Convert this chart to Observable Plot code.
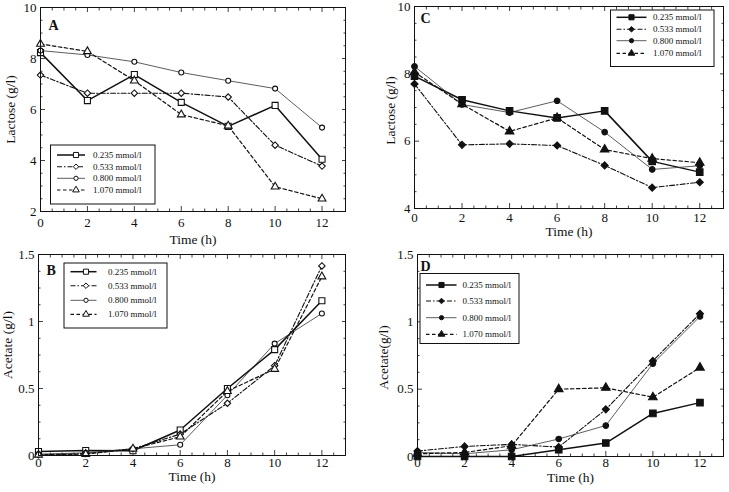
<!DOCTYPE html>
<html>
<head>
<meta charset="utf-8">
<script src="https://cdn.jsdelivr.net/npm/d3@7"></script>
<script src="https://cdn.jsdelivr.net/npm/@observablehq/plot@0.6"></script>
<style>
  body { margin: 0; background: #fff; }
  #fig { position: relative; width: 729px; height: 492px; background: #fff;
         font-family: "Liberation Serif", "Times New Roman", serif; }
  .panel { position: absolute; }
  #legends { position: absolute; left: 0; top: 0; pointer-events: none; }
</style>
</head>
<body>
<div id="fig"></div>
<script>
// Sampling times (h) and the four concentrations tested
const hours = [0, 2, 4, 6, 8, 10, 12];
const concentrations = ["0.235 mmol/l", "0.533 mmol/l", "0.800 mmol/l", "1.070 mmol/l"];

// A: lactose (g/l), open symbols
const lactoseA_0235 = [8.23, 6.35, 7.37, 6.28, 5.34, 6.16, 4.05];
const lactoseA_0533 = [7.35, 6.64, 6.64, 6.64, 6.49, 4.60, 3.78];
const lactoseA_0800 = [8.31, 8.14, 7.87, 7.45, 7.13, 6.82, 5.29];
const lactoseA_1070 = [8.57, 8.28, 7.13, 5.80, 5.36, 2.97, 2.50];

// B: acetate (g/l), open symbols
const acetateB_0235 = [0.030, 0.037, 0.035, 0.19, 0.50, 0.79, 1.155];
const acetateB_0533 = [0.005, 0.015, 0.050, 0.16, 0.39, 0.67, 1.415];
const acetateB_0800 = [0.010, 0.020, 0.050, 0.08, 0.45, 0.835, 1.06];
const acetateB_1070 = [0.005, 0.010, 0.050, 0.14, 0.48, 0.645, 1.335];

// C: lactose (g/l), filled symbols
const lactoseC_0235 = [7.93, 7.23, 6.90, 6.69, 6.90, 5.40, 5.08];
const lactoseC_0533 = [7.70, 5.89, 5.92, 5.87, 5.28, 4.62, 4.78];
const lactoseC_0800 = [8.22, 7.09, 6.85, 7.20, 6.27, 5.16, 5.27];
const lactoseC_1070 = [8.05, 7.10, 6.29, 6.69, 5.75, 5.48, 5.36];

// D: acetate (g/l), filled symbols
const acetateD_0235 = [0.00, 0.00, 0.00, 0.05, 0.10, 0.32, 0.40];
const acetateD_0533 = [0.04, 0.075, 0.09, 0.07, 0.35, 0.71, 1.06];
const acetateD_0800 = [0.03, 0.02, 0.05, 0.13, 0.23, 0.69, 1.04];
const acetateD_1070 = [0.02, 0.03, 0.08, 0.50, 0.51, 0.44, 0.66];

// Axis ticks
const xMajor = [0, 2, 4, 6, 8, 10, 12];
const xMinor = d3.range(0, 13.01, 0.5).filter(v => v % 2 !== 0);
const lactoseTicksA = [2, 4, 6, 8, 10];
const lactoseTicksC = [4, 6, 8, 10];
const acetateTicks = [0, 0.5, 1, 1.5];

const FONT = '"Liberation Serif", "Times New Roman", serif';

// Line and marker style of each concentration
const seriesStyle = {
  "0.235 mmol/l": { symbol: "square",   r: 3.4, dash: null,        width: 1.5, color: "#111" },
  "0.533 mmol/l": { symbol: "diamond2", r: 2.9, dash: "5,2,1.5,2", width: 1.1, color: "#111" },
  "0.800 mmol/l": { symbol: "circle",   r: 2.5, dash: null,        width: 0.8, color: "#333" },
  "1.070 mmol/l": { symbol: "triangle", r: 2.9, dash: "3.5,2.5",   width: 1.2, color: "#111" }
};

const fig = document.getElementById("fig");

function drawPanel(cfg) {
  const rows = cfg.series.flatMap((vals, i) =>
    hours.map((t, j) => ({ t, v: vals[j], s: concentrations[i] })));
  const [y0, y1] = cfg.yDomain;
  const yMinor = d3.range(y0, y1 + 1e-9, cfg.yMinorStep).filter(v => !cfg.yTicks.some(t => Math.abs(t - v) < 1e-9));
  const tickStyle = { stroke: "#111", strokeWidth: 0.8 };

  const marks = [
    Plot.axisX(xMinor, { anchor: "bottom", tickSize: -2.5, tickFormat: () => "", label: null, ...tickStyle }),
    Plot.axisX(xMinor, { anchor: "top", tickSize: -2.5, tickFormat: () => "", label: null, ...tickStyle }),
    Plot.axisX(xMajor, { anchor: "top", tickSize: -4, tickFormat: () => "", label: null, ...tickStyle }),
    Plot.axisX(xMajor, { anchor: "bottom", tickSize: -5, tickPadding: cfg.xPad, tickFormat: d => String(d),
      label: null, fontSize: 13, ...tickStyle }),
    Plot.axisY(yMinor, { anchor: "left", tickSize: -2.5, tickFormat: () => "", label: null, ...tickStyle }),
    Plot.axisY(yMinor, { anchor: "right", tickSize: -2.5, tickFormat: () => "", label: null, ...tickStyle }),
    Plot.axisY(cfg.yTicks, { anchor: "right", tickSize: -4, tickFormat: () => "", label: null, ...tickStyle }),
    Plot.axisY(cfg.yTicks, { anchor: "left", tickSize: -5, tickPadding: 9, tickFormat: d => String(d),
      label: null, fontSize: 13, ...tickStyle })
  ];

  for (const c of concentrations) {
    const st = seriesStyle[c];
    const sub = rows.filter(d => d.s === c);
    marks.push(Plot.line(sub, {
      x: "t", y: "v", stroke: st.color, strokeWidth: st.width,
      strokeDasharray: st.dash ?? undefined
    }));
  }
  for (const c of concentrations) {
    const st = seriesStyle[c];
    const sub = rows.filter(d => d.s === c);
    marks.push(Plot.dot(sub, {
      x: "t", y: "v", symbol: () => st.symbol, r: st.r + (cfg.filled ? 0.3 : 0),
      fill: cfg.filled ? "#111" : "#fff", stroke: "#111", strokeWidth: 1.1
    }));
  }

  marks.push(
    Plot.frame({ stroke: "#111", strokeWidth: 1 }),
    Plot.text([cfg.letter], { frameAnchor: "top-left", dx: cfg.letterDx, dy: cfg.letterDy,
      fontWeight: "bold", fontSize: 14, textAnchor: "start", lineAnchor: "top", fill: "#111" }),
    Plot.text(["Time (h)"], { frameAnchor: "bottom", dy: cfg.xLabelDy, lineAnchor: "middle",
      fontSize: 13.5, fill: "#111" }),
    Plot.text([cfg.yLabel], { frameAnchor: "left", rotate: -90, dx: -cfg.yLabelDx, dy: cfg.yLabelDy ?? 0,
      textAnchor: "middle", lineAnchor: "middle", fontSize: 13.5, fill: "#111" })
  );

  const svg = Plot.plot({
    width: cfg.width, height: cfg.height,
    marginLeft: cfg.m[0], marginTop: cfg.m[1], marginRight: cfg.m[2], marginBottom: cfg.m[3],
    x: { domain: [0, 13] },
    y: { domain: cfg.yDomain },
    style: { fontFamily: FONT, fontSize: "13px", color: "#111", background: "transparent", overflow: "visible" },
    marks
  });
  const holder = document.createElement("div");
  holder.className = "panel";
  holder.style.left = cfg.left + "px";
  holder.style.top = cfg.top + "px";
  holder.appendChild(svg);
  fig.appendChild(holder);
}

drawPanel({
  left: 0, top: 0, width: 364, height: 246, m: [40, 7, 19, 35],
  yDomain: [2, 10], yTicks: lactoseTicksA, yMinorStep: 0.5, xPad: 11,
  series: [lactoseA_0235, lactoseA_0533, lactoseA_0800, lactoseA_1070],
  filled: false, letter: "A", letterDx: 8, letterDy: 13,
  xLabelDy: 28, yLabel: "Lactose (g/l)", yLabelDx: 30
});
drawPanel({
  left: 0, top: 246, width: 364, height: 246, m: [38, 8, 19, 37],
  yDomain: [0, 1.5], yTicks: acetateTicks, yMinorStep: 0.125, xPad: 7.5,
  series: [acetateB_0235, acetateB_0533, acetateB_0800, acetateB_1070],
  filled: false, letter: "B", letterDx: 8, letterDy: 11,
  xLabelDy: 21, yLabel: "Acetate (g/l)", yLabelDx: 31, yLabelDy: -10
});
drawPanel({
  left: 364, top: 0, width: 365, height: 246, m: [50, 6, 6, 38],
  yDomain: [4, 10], yTicks: lactoseTicksC, yMinorStep: 0.5, xPad: 9.5,
  series: [lactoseC_0235, lactoseC_0533, lactoseC_0800, lactoseC_1070],
  filled: true, letter: "C", letterDx: 6, letterDy: 7,
  xLabelDy: 23, yLabel: "Lactose (g/l)", yLabelDx: 24, yLabelDy: 3
});
drawPanel({
  left: 364, top: 246, width: 365, height: 246, m: [53, 8, 6, 36],
  yDomain: [0, 1.5], yTicks: acetateTicks, yMinorStep: 0.125, xPad: 6.5,
  series: [acetateD_0235, acetateD_0533, acetateD_0800, acetateD_1070],
  filled: true, letter: "D", letterDx: 3, letterDy: 7,
  xLabelDy: 21, yLabel: "Acetate(g/l)", yLabelDx: 34, yLabelDy: 2
});

// Legend boxes
const legendSvg = d3.select(fig).append("svg")
  .attr("id", "legends").attr("width", 729).attr("height", 492);

function drawLegend(box) {
  const g = legendSvg.append("g");
  g.append("rect").attr("x", box.x).attr("y", box.y).attr("width", box.w).attr("height", box.h)
    .attr("fill", "#fff").attr("stroke", "#111").attr("stroke-width", 1);
  concentrations.forEach((c, i) => {
    const st = seriesStyle[c];
    const y = box.rows[i];
    g.append("line").attr("x1", box.lx1).attr("x2", box.lx2).attr("y1", y).attr("y2", y)
      .attr("stroke", st.color).attr("stroke-width", st.width)
      .attr("stroke-dasharray", st.dash);
    const sym = { square: d3.symbolSquare, diamond2: d3.symbolDiamond2, circle: d3.symbolCircle, triangle: d3.symbolTriangle }[st.symbol];
    const r = st.r * 0.85;
    g.append("path").attr("d", d3.symbol(sym, r * r * Math.PI)())
      .attr("transform", `translate(${box.mx},${y})`)
      .attr("fill", box.filled ? "#111" : "#fff").attr("stroke", "#111").attr("stroke-width", 1);
    g.append("text").attr("x", box.tx).attr("y", y).attr("dy", "0.33em")
      .attr("font-family", FONT).attr("font-size", 9).attr("fill", "#111").text(c);
  });
}

drawLegend({ x: 50.5, y: 145, w: 104.5, h: 59, rows: [155, 166.7, 178.3, 190],
  lx1: 57, lx2: 85, mx: 76, tx: 93, filled: false });
drawLegend({ x: 64, y: 263, w: 103, h: 65, rows: [271.7, 285.7, 300.3, 314.3],
  lx1: 70.5, lx2: 96.5, mx: 86, tx: 108, filled: false });
drawLegend({ x: 610.5, y: 10, w: 103.5, h: 56.5, rows: [17.3, 29.3, 40.7, 53.3],
  lx1: 616.5, lx2: 646.5, mx: 631.5, tx: 653, filled: true });
drawLegend({ x: 420, y: 273.5, w: 99, h: 70, rows: [285, 301, 317.7, 334.3],
  lx1: 426, lx2: 456.5, mx: 441.5, tx: 462.5, filled: true });
</script>
</body>
</html>
